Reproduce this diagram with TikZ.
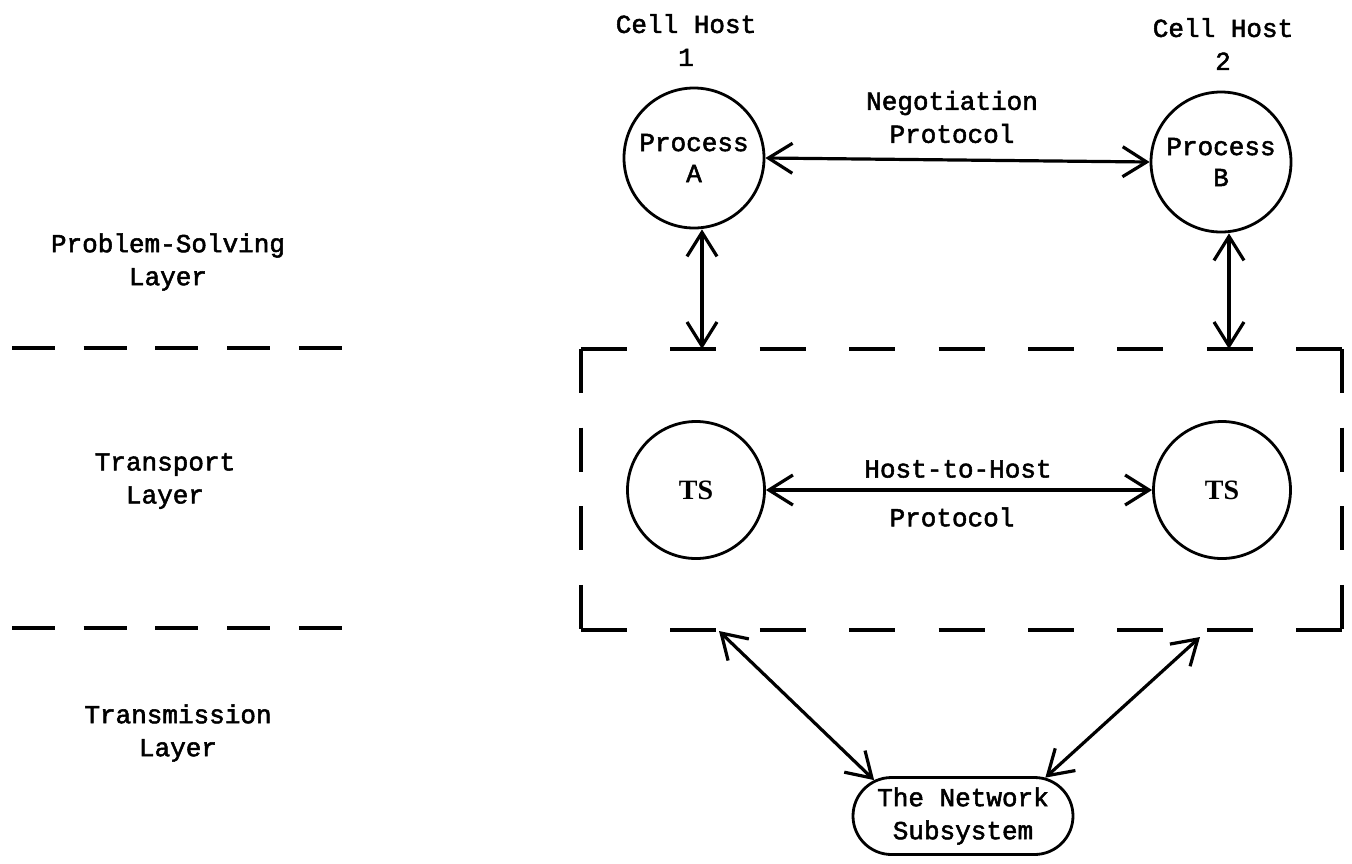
\documentclass[tikz,border=0pt]{standalone}
\usepackage{fontspec}
\newfontfamily\typew[FakeBold=2]{Liberation Mono}
\newfontfamily\tsface{Liberation Serif}
\usetikzlibrary{arrows.meta,shapes.misc}

\begin{document}
\begin{tikzpicture}[x=1pt,y=-1pt,
  txt/.style={font=\typew\fontsize{26}{33}\selectfont, align=center, inner sep=0pt},
  proc/.style={circle, draw, line width=2.8pt, minimum size=140pt, inner sep=0pt,
    font=\typew\fontsize{26}{31}\selectfont, align=center},
  tsnode/.style={circle, draw, line width=2.8pt, minimum size=137pt, inner sep=0pt,
    font=\tsface\bfseries\fontsize{28}{30}\selectfont},
  netnode/.style={rounded rectangle, draw, line width=2.8pt, minimum width=220pt,
    minimum height=77pt, inner sep=0pt, font=\typew\fontsize{26}{33}\selectfont, align=center},
  dbl/.style={line width=3.2pt, {Straight Barb[length=24pt,width=30pt]}-{Straight Barb[length=24pt,width=30pt]}},
  hdash/.style={line width=3.2pt, dash pattern=on 46pt off 43.4pt},
  vdash/.style={line width=3.2pt, dash pattern=on 44pt off 34.6pt},
  layerdash/.style={line width=3.2pt, dash pattern=on 43pt off 28.7pt}
]
\useasboundingbox[fill=white] (0,0) rectangle (1352,863);

% layer names
\node[txt] (psl) at (168,262) {Problem-Solving\\Layer};
\node[txt] (tpl) at (165,481) {Transport\\Layer};
\node[txt] (tml) at (178,733) {Transmission\\Layer};

% layer boundaries
\coordinate (l1a) at (12,348);
\coordinate (l1b) at (342,348);
\coordinate (l2a) at (12,628);
\coordinate (l2b) at (342,628);
\draw[layerdash] (l1a) -- (l1b);
\draw[layerdash] (l2a) -- (l2b);

% hosts and processes
\node[txt] (h1) at (686,40) {Cell Host\\1};
\node[txt] (h2) at (1223,44) {Cell Host\\2};
\node[proc] (A) at (694,158) {Process\\A};
\node[proc] (B) at (1221,162) {Process\\B};
\draw[dbl] (A.east) -- (B.west);
\node[txt] (neg) at (952,117) {Negotiation\\Protocol};

% transport service box
\coordinate (bnw) at (581,349);
\coordinate (bne) at (1342,349);
\coordinate (bsw) at (581,630);
\coordinate (bse) at (1342,630);
\draw[hdash] (bnw) -- (bne);
\draw[hdash] (bsw) -- (bse);
\draw[vdash] (bnw) -- (bsw);
\draw[vdash] (bne) -- (bse);

\coordinate (atop) at (702,349);
\coordinate (btop) at (1229,349);
\draw[dbl] (A.south -| atop) -- (atop);
\draw[dbl] (B.south -| btop) -- (btop);

\node[tsnode] (tsa) at (696,490) {TS};
\node[tsnode] (tsb) at (1222,490) {TS};
\draw[dbl] (tsa.east) -- (tsb.west);
\node[txt] (hth) at (958,469) {Host-to-Host};
\node[txt] (htp) at (952,517) {Protocol};

% network subsystem
\node[netnode] (net) at (963,816) {The Network\\Subsystem};
\coordinate (bl) at (719,631);
\coordinate (br) at (1200,637);
\draw[dbl] (bl) -- (net.158);
\draw[dbl] (net.25) -- (br);
\end{tikzpicture}
\end{document}
